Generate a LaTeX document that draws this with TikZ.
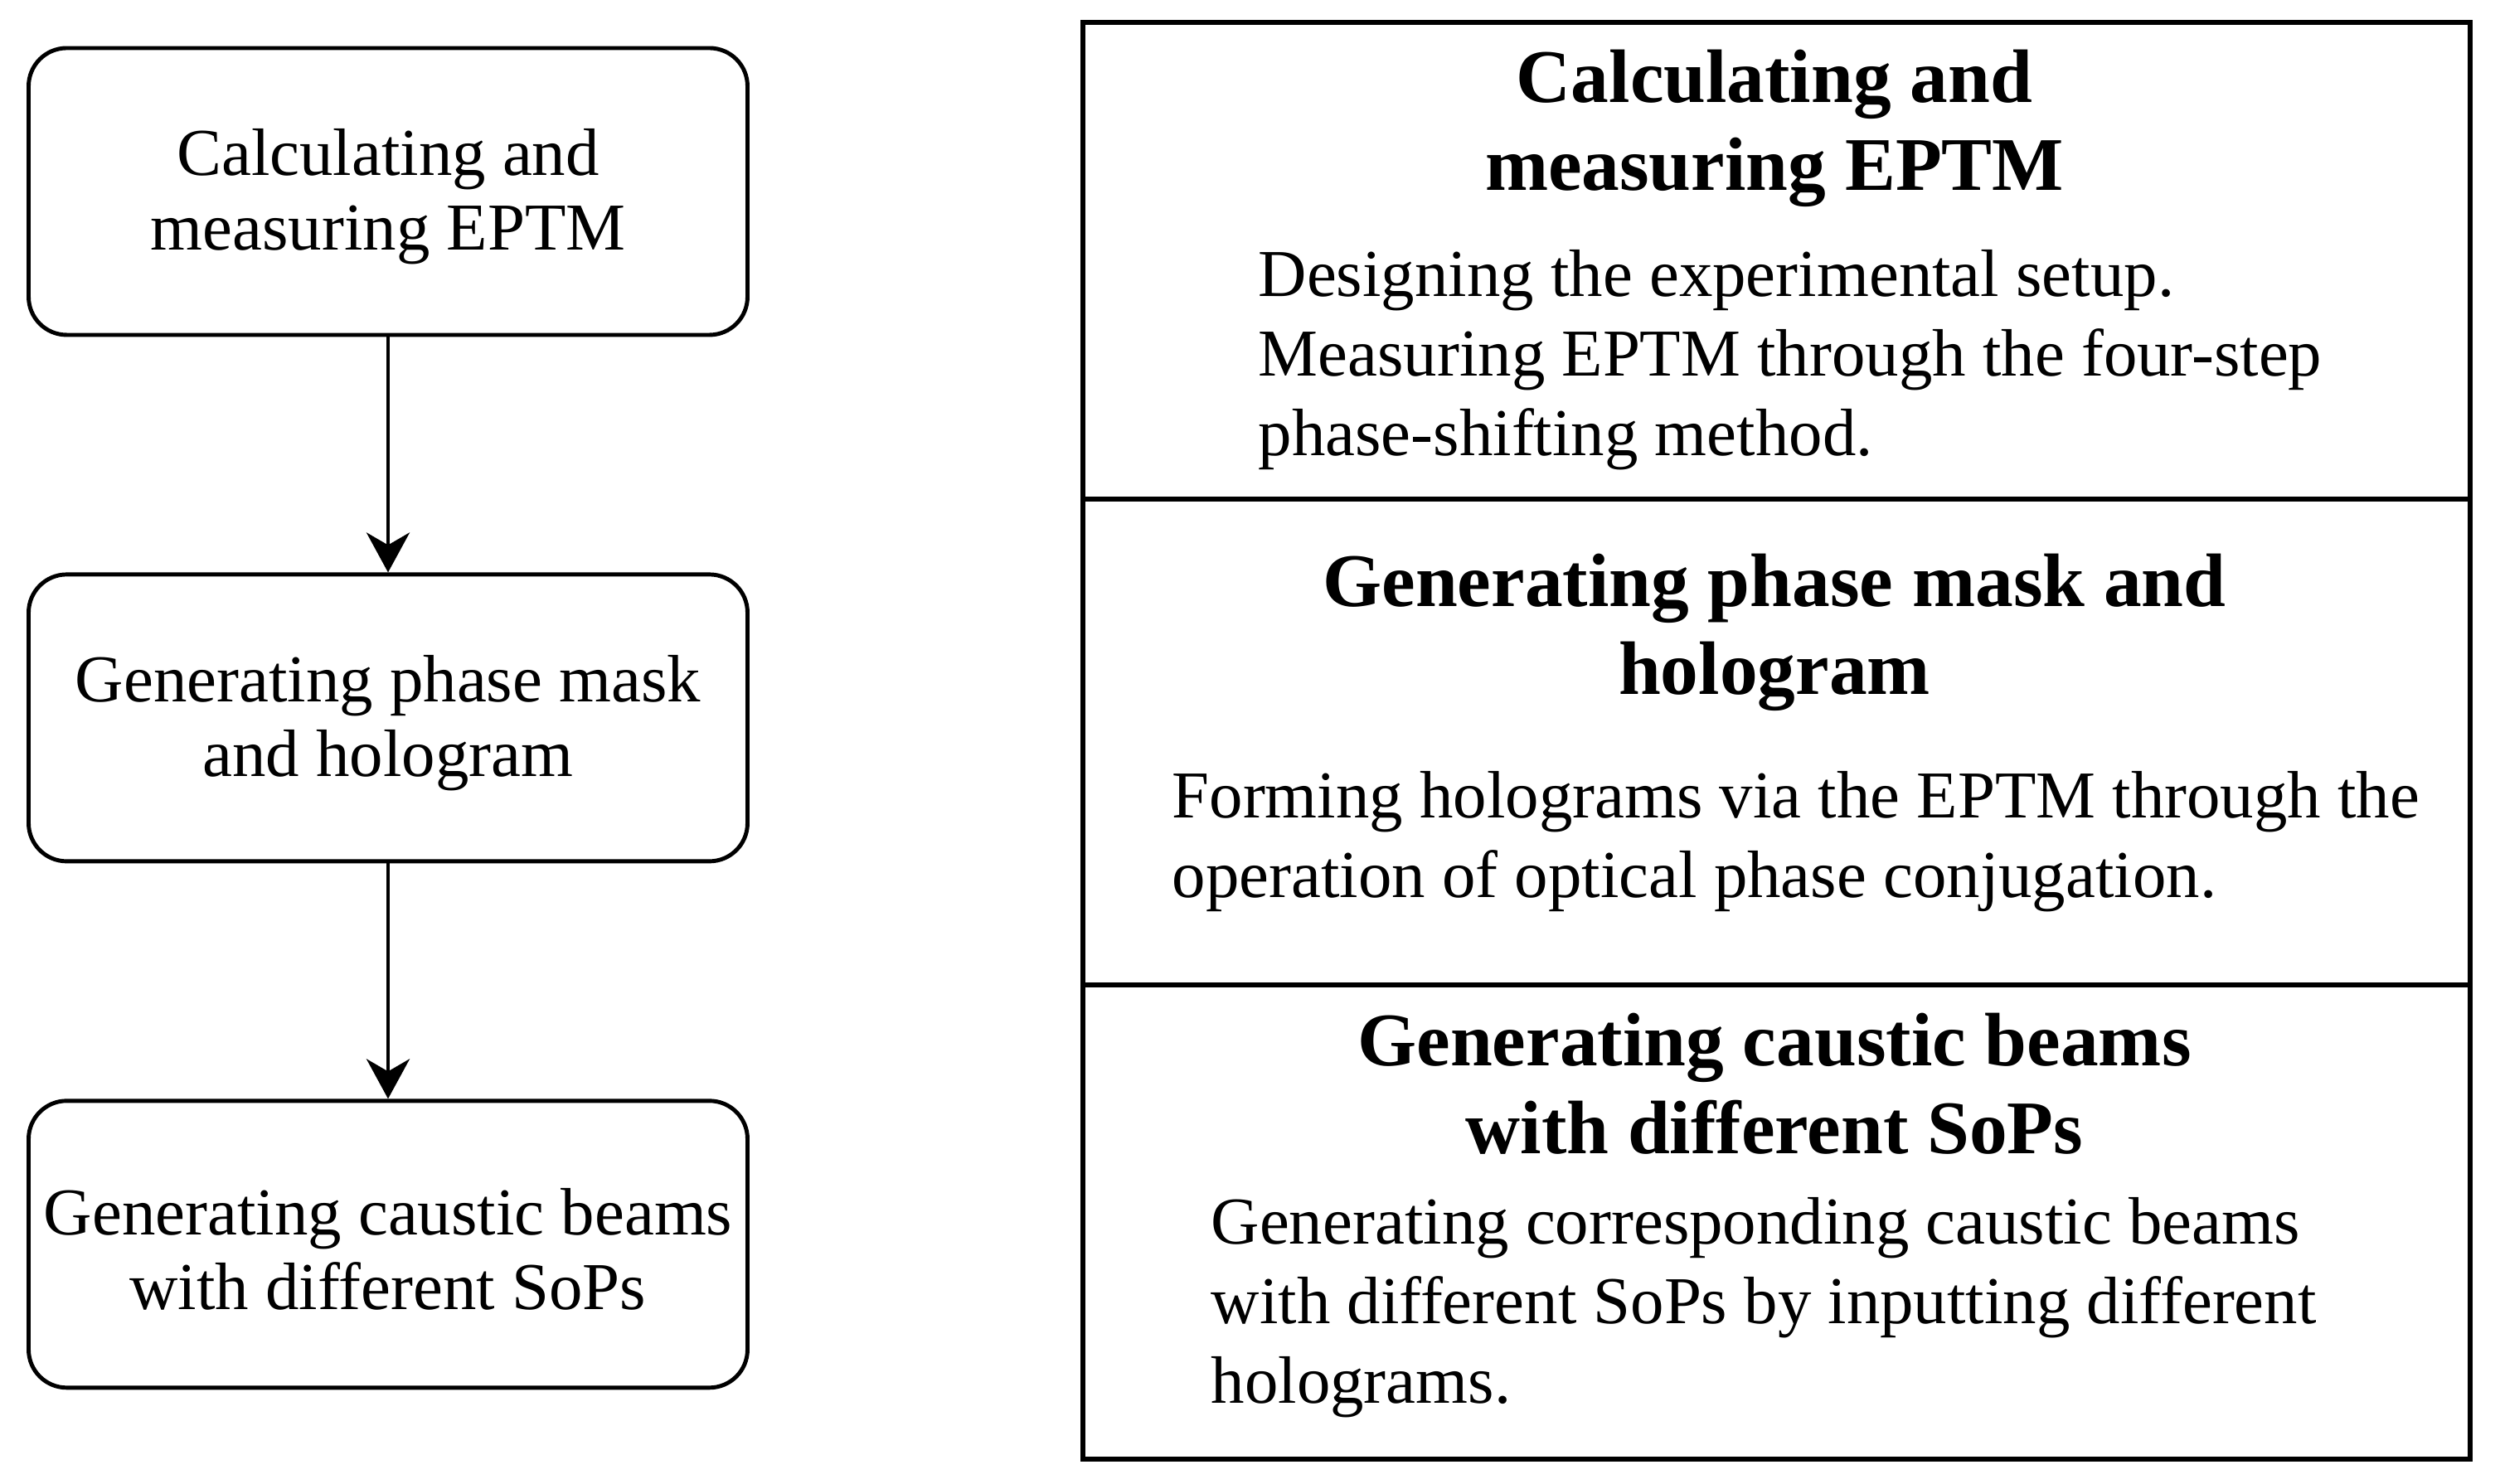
\documentclass[tikz,border=0pt]{standalone}
\usepackage{fontspec}
\setmainfont{Liberation Serif}
\usetikzlibrary{arrows.meta,positioning}
\tikzset{
  ar/.style={-{Stealth[length=4.8mm,width=5.2mm,inset=1.5mm]},line width=1.4pt},
  stepbox/.style={draw,line width=1.4pt,rounded corners=0.46cm,minimum width=8.67cm,minimum height=3.46cm,inner sep=0pt},
  steptext/.style={align=center,inner sep=0pt,yshift=-0.06cm,font=\fontsize{23}{25.6}\selectfont},
  ttl/.style={align=center,inner sep=0pt,font=\fontsize{26}{30.1}\selectfont\bfseries},
  txt/.style={align=left,anchor=west,inner sep=0pt,font=\fontsize{23}{27.3}\selectfont}
}

\begin{document}
\begin{tikzpicture}
\useasboundingbox (0,0) rectangle (30.15,17.90);
% flow on the left
\node[stepbox,label={[steptext]center:{Calculating and\\measuring EPTM}}] (calc) at (4.68,15.59) {};
\node[stepbox,below=2.84cm of calc,label={[steptext]center:{Generating phase mask\\and hologram}}] (mask) {};
\node[stepbox,below=2.84cm of mask,label={[steptext]center:{Generating caustic beams\\with different SoPs}}] (beam) {};
\draw[ar] (calc) -- (mask);
\draw[ar] (mask) -- (beam);
% panel on the right
\node[draw,line width=1.6pt,minimum width=16.73cm,minimum height=17.33cm,inner sep=0pt] (panel) at (21.425,8.965) {};
\draw[line width=1.6pt] (13.06,11.88) -- (29.79,11.88);
\draw[line width=1.6pt] (13.06,6.02) -- (29.79,6.02);
\node[ttl] (t1) at (21.40,16.35) {Calculating and\\measuring EPTM};
\node[txt] (b1) at (15.17,13.56) {Designing the experimental setup.\\Measuring EPTM through the four-step\\phase-shifting method.};
\node[ttl] (t2) at (21.40,10.27) {Generating phase mask and\\hologram};
\node[txt] (b2) at (14.13,7.75) {Forming holograms via the EPTM through the\\operation of optical phase conjugation.};
\node[ttl] (t3) at (21.40,4.83) {Generating caustic beams\\with different SoPs};
\node[txt] (b3) at (14.60,2.13) {Generating corresponding caustic beams\\with different SoPs by inputting different\\holograms.};
\end{tikzpicture}
\end{document}
